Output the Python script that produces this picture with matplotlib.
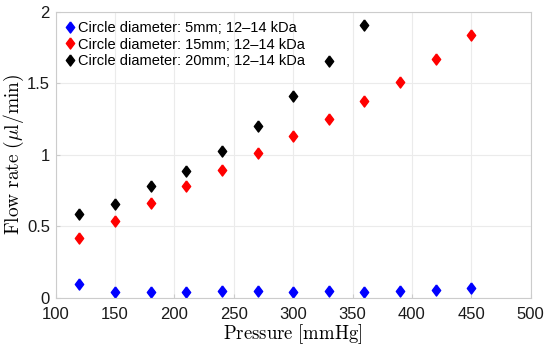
import matplotlib.pyplot as plt

plt.rcParams['mathtext.fontset'] = 'cm'

pressure = [120, 150, 180, 210, 240, 270, 300, 330, 360, 390, 420, 450]
flow_5mm = [0.10, 0.042, 0.04, 0.042, 0.045, 0.045, 0.042, 0.045, 0.042, 0.05, 0.056, 0.07]
flow_15mm = [0.42, 0.54, 0.66, 0.78, 0.895, 1.01, 1.13, 1.25, 1.38, 1.51, 1.67, 1.84]
pressure_20mm = [120, 150, 180, 210, 240, 270, 300, 330, 360]
flow_20mm = [0.585, 0.655, 0.78, 0.885, 1.03, 1.20, 1.415, 1.655, 1.91]

# MATLAB-style diamond (a bit wider than matplotlib's 'd')
diamond = [(0, 1), (0.75, 0), (0, -1), (-0.75, 0), (0, 1)]

fig = plt.figure(figsize=(5.5, 3.5), dpi=100)
ax = fig.add_axes([0.101, 0.149, 0.864, 0.817])

ax.plot(pressure, flow_5mm, ls='none', marker=diamond, color='blue', ms=8,
        label='Circle diameter: 5mm; 12–14 kDa')
ax.plot(pressure, flow_15mm, ls='none', marker=diamond, color='red', ms=8,
        label='Circle diameter: 15mm; 12–14 kDa')
ax.plot(pressure_20mm, flow_20mm, ls='none', marker=diamond, color='black', ms=8,
        label='Circle diameter: 20mm; 12–14 kDa')

ax.set_xlim(100, 500)
ax.set_ylim(0, 2)
ax.set_xticks(range(100, 501, 50))
ax.set_yticks([0, 0.5, 1, 1.5, 2])
ax.set_yticklabels(['0', '0.5', '1', '1.5', '2'])
ax.grid(True, color='#ebebeb', lw=0.8)
ax.set_axisbelow(True)
for s in ax.spines.values():
    s.set_color('#cccccc')
ax.tick_params(direction='in', length=3, color='#cccccc', labelsize=12,
               labelcolor='#1a1a1a')
ax.tick_params(axis='x', pad=6.5)
ax.tick_params(axis='y', pad=4)
for t in ax.get_xticklabels() + ax.get_yticklabels():
    t.set_family('Liberation Sans')

ax.set_xlabel(r'$\mathrm{Pressure\ [mmHg]}$', fontsize=13.5, labelpad=0)
ax.set_ylabel(r'$\mathrm{Flow\ rate\ }(\mu\mathrm{l/min})$', fontsize=14, labelpad=1)

leg = ax.legend(loc='upper left', frameon=False, handletextpad=0.15,
                handlelength=0.8, borderaxespad=0.2, labelspacing=0.2,
                prop={'family': 'Liberation Sans', 'size': 10.5})

fig.savefig('out.png', dpi=100)
